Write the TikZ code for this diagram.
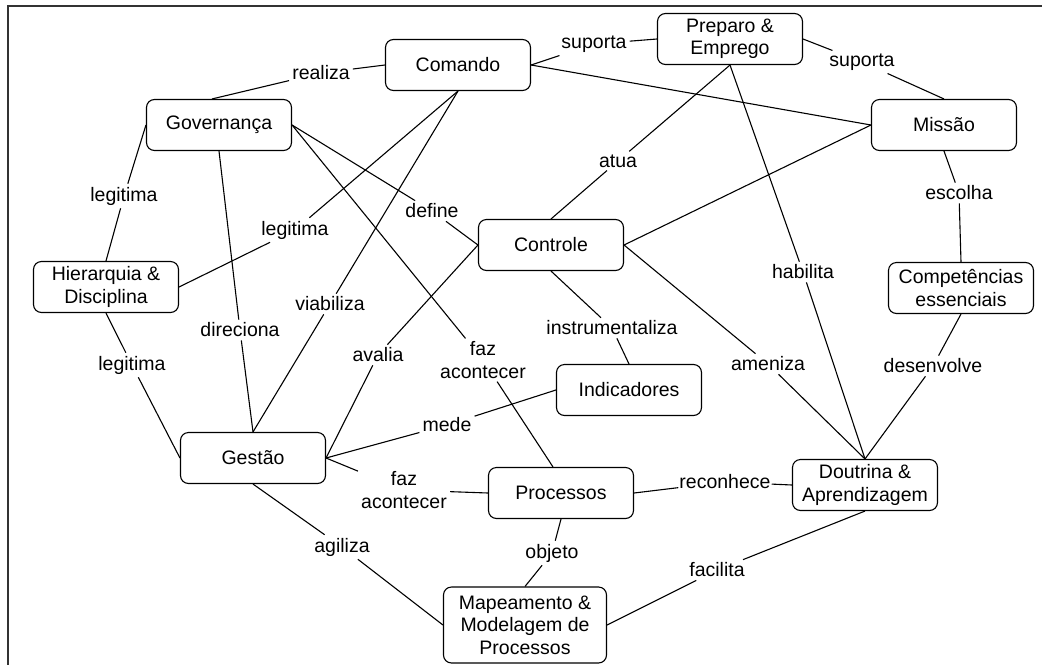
\documentclass[tikz,border=0pt]{standalone}
\usepackage{fontspec}
\setmainfont{Liberation Sans}
\begin{document}
\begin{tikzpicture}[x=1pt,y=-1pt,
  box/.style={draw, rounded corners=8pt, line width=1.1pt, minimum width=145pt, minimum height=51pt,
    align=center, font=\fontsize{19.5}{22.5}\selectfont, inner sep=2pt},
  lbl/.style={align=center, font=\fontsize{19.5}{22.5}\selectfont, inner sep=3pt},
  con/.style={line width=1.1pt},
  frame/.style={line width=1.8pt, black!80}]
\useasboundingbox (0,0) rectangle (1042,665);
\draw[frame] (1042,6) -- (8,6) -- (8,665);

% concept boxes
\node[box] (com)  at (458,65)  {Comando};
\node[box] (prep) at (730,39)  {Preparo \&\\Emprego};
\node[box] (mis)  at (944,125) {Missão};
\node[box] (gov)  at (219,125) {Governança};
\node[box] (hier) at (106,287) {Hierarquia \&\\Disciplina};
\node[box] (ctl)  at (551,245) {Controle};
\node[box] (comp) at (961,288) {Competências\\essenciais};
\node[box] (ges)  at (253,458) {Gestão};
\node[box] (ind)  at (629,390) {Indicadores};
\node[box] (proc) at (561,493) {Processos};
\node[box] (dou)  at (865,485) {Doutrina \&\\Aprendizagem};
\node[box, minimum width=163pt, minimum height=76pt] (map) at (525,625) {Mapeamento \&\\Modelagem de\\Processos};

% link labels
\node[lbl] (l1)  at (321,73)  {realiza};
\node[lbl] (l2)  at (594,44)  {suporta};
\node[lbl] (l3)  at (862,62)  {suporta};
\node[lbl] (l5)  at (618,161) {atua};
\node[lbl] (l7)  at (803,272) {habilita};
\node[lbl] (l8)  at (959,193) {escolha};
\node[lbl] (l9)  at (933,366) {desenvolve};
\node[lbl] (l10) at (768,364) {ameniza};
\node[lbl] (l11) at (612,328) {instrumentaliza};
\node[lbl] (l12) at (124,196) {legitima};
\node[lbl] (l13) at (295,230) {legitima};
\node[lbl] (l14) at (432,211) {define};
\node[lbl] (l15) at (483,360) {faz\\acontecer};
\node[lbl] (l16) at (240,330) {direciona};
\node[lbl] (l17) at (330,304) {viabiliza};
\node[lbl] (l18) at (378,355) {avalia};
\node[lbl] (l19) at (132,365) {legitima};
\node[lbl] (l20) at (447,425) {mede};
\node[lbl] (l21) at (404,490) {faz\\acontecer};
\node[lbl] (l22) at (342,547) {agiliza};
\node[lbl, inner sep=1pt] (l23) at (725,482) {reconhece};
\node[lbl] (l24) at (552,553) {objeto};
\node[lbl] (l25) at (717,570) {facilita};

% connectors
\draw[con] ([xshift=-7pt]gov.north) -- (l1) -- (com.west);
\draw[con] (com.east) -- (l2) -- (prep.west);
\draw[con] (prep.east) -- (l3) -- (mis.north);
\draw[con] (com.east) -- (mis.west);
\draw[con] (prep.south) -- (l5) -- (ctl.north);
\draw[con] (ctl.east) -- (mis.west);
\draw[con] (prep.south) -- (l7) -- (dou.north);
\draw[con] (mis.south) -- (l8) -- (comp.north);
\draw[con] (comp.south) -- (l9) -- (dou.north);
\draw[con] (ctl.east) -- (l10) -- (dou.north);
\draw[con] (ctl.south) -- (l11) -- (ind.north);
\draw[con] (gov.west) -- (l12) -- (hier.north);
\draw[con] (com.south) -- (l13) -- (hier.east);
\draw[con] (gov.east) -- (l14) -- (ctl.west);
\draw[con] (gov.east) -- (l15) -- ([xshift=-8pt]proc.north);
\draw[con] (gov.south) -- (l16) -- (ges.north);
\draw[con] (com.south) -- (l17) -- (ges.north);
\draw[con] (ctl.west) -- (l18) -- (ges.east);
\draw[con] (hier.south) -- (l19) -- (ges.west);
\draw[con] (ind.west) -- (l20) -- (ges.east);
\draw[con] (proc.west) -- (l21) -- (ges.east);
\draw[con] (ges.south) -- (l22) -- (map.west);
\draw[con] (proc.east) -- (l23) -- (dou.west);
\draw[con] (proc.south) -- (l24) -- (map.north);
\draw[con] (dou.south) -- (l25) -- (map.east);
\end{tikzpicture}
\end{document}
